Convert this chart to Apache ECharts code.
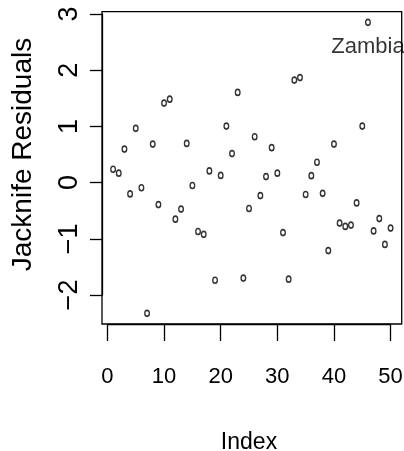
<!DOCTYPE html>
<html>
<head>
<meta charset="utf-8">
<script src="https://cdn.jsdelivr.net/npm/echarts@6/dist/echarts.min.js"></script>
<style>
html,body{margin:0;padding:0;background:#fff;}
#chart{width:404px;height:451px;}
</style>
</head>
<body>
<div id="chart"></div>
<script>
var indices = [];
for (var k = 1; k <= 50; k++) indices.push(k);
var residuals = [0.24, 0.17, 0.60, -0.20, 0.97, -0.09, -2.33, 0.69, -0.39, 1.42,
                 1.49, -0.65, -0.47, 0.70, -0.05, -0.87, -0.92, 0.21, -1.74, 0.13,
                 1.01, 0.52, 1.61, -1.70, -0.46, 0.82, -0.23, 0.11, 0.625, 0.17,
                 -0.89, -1.72, 1.83, 1.875, -0.21, 0.125, 0.365, -0.19, -1.21, 0.69,
                 -0.72, -0.78, -0.755, -0.36, 1.01, 2.86, -0.86, -0.64, -1.10, -0.81];
var labelledIndex = 46;
var labelledName = "Zambia";
var xTicks = [0, 10, 20, 30, 40, 50];
var yTicks = [-2, -1, 0, 1, 2, 3];
var xTitle = "Index";
var yTitle = "Jacknife Residuals";

var narrow = "'Liberation Sans', Arial, sans-serif";
var regular = "'Liberation Sans', Arial, sans-serif";

var points = indices.map(function (i, n) {
  var item = { value: [i, residuals[n]] };
  if (i === labelledIndex) {
    item.label = {
      show: true, formatter: labelledName, position: 'bottom', distance: 10,
      fontFamily: narrow, fontSize: 22, color: '#000'
    };
  }
  return item;
});

var chart = echarts.init(document.getElementById('chart'), null, { renderer: 'canvas' });
chart.setOption({
  animation: false,
  backgroundColor: '#fff',
  grid: [
    { left: 102, right: 2.3, top: 11.7, bottom: 127, outerBoundsMode: 'none', containLabel: false,
      show: true, borderColor: '#000', borderWidth: 1.3, backgroundColor: 'transparent' },
    { left: 107.4, right: 13.4, top: 11.7, bottom: 127, outerBoundsMode: 'none', containLabel: false },
    { left: 102, right: 2.3, top: 14, bottom: 156, outerBoundsMode: 'none', containLabel: false }
  ],
  xAxis: [
    { gridIndex: 0, type: 'value', min: -0.96, max: 51.96, show: false },
    { gridIndex: 1, type: 'value', min: xTicks[0], max: xTicks[xTicks.length - 1], interval: 10,
      position: 'bottom',
      axisLine: { show: true, onZero: false, lineStyle: { color: '#000', width: 1.3 } },
      axisTick: { show: true, inside: false, length: 17, lineStyle: { color: '#000', width: 1.3 } },
      splitLine: { show: false },
      axisLabel: { margin: 42, fontFamily: narrow, fontSize: 22, color: '#000' },
      name: xTitle, nameLocation: 'middle', nameGap: 107,
      nameTextStyle: { fontFamily: narrow, fontSize: 23, color: '#000' } },
    { gridIndex: 2, type: 'value', min: -1, max: 1, show: false }
  ],
  yAxis: [
    { gridIndex: 0, type: 'value', min: -2.52, max: 3.05, show: false },
    { gridIndex: 1, type: 'value', min: 0, max: 1, show: false },
    { gridIndex: 2, type: 'value', min: yTicks[0], max: yTicks[yTicks.length - 1], interval: 1,
      position: 'left',
      axisLine: { show: true, onZero: false, lineStyle: { color: '#000', width: 1.3 } },
      axisTick: { show: true, inside: false, length: 12, lineStyle: { color: '#000', width: 1.3 } },
      splitLine: { show: false },
      axisLabel: { margin: 19, rotate: 90, fontFamily: regular, fontSize: 27, color: '#000',
        formatter: function (v) { return v < 0 ? '\u2212' + Math.abs(v) : String(v); } },
      name: yTitle, nameLocation: 'middle', nameGap: 65, nameRotate: 90,
      nameTextStyle: { fontFamily: regular, fontSize: 28, color: '#000' } }
  ],
  series: [{
    type: 'scatter',
    xAxisIndex: 0, yAxisIndex: 0,
    symbol: 'circle', symbolSize: [4.6, 6],
    itemStyle: { color: '#fff', borderColor: '#000', borderWidth: 1.5 },
    data: points
  }]
});
</script>
</body>
</html>
